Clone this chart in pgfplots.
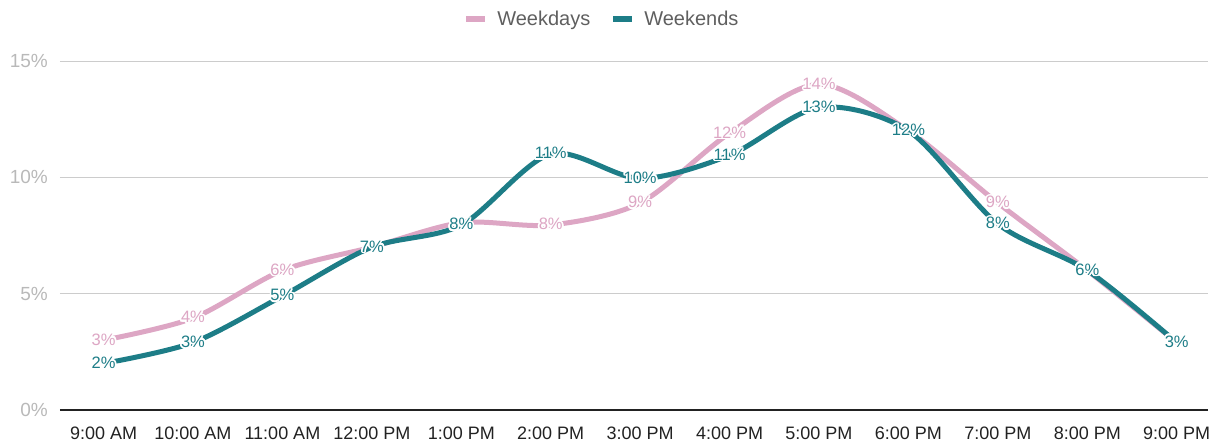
\documentclass[border=0pt]{standalone}
\usepackage{fontspec}
\setmainfont{Liberation Sans}
\usepackage{pgfplots}
\pgfplotsset{compat=1.18}
\usepackage{contour}
\contourlength{1.6pt}
\definecolor{wd}{RGB}{221,166,196}
\definecolor{we}{RGB}{29,125,135}
\definecolor{gridgray}{RGB}{204,204,204}
\definecolor{ytgray}{RGB}{185,185,185}
\definecolor{legtext}{RGB}{95,95,95}
\definecolor{xtext}{RGB}{34,34,34}
\begin{document}
\begin{tikzpicture}
\path[use as bounding box] (-60pt,-35pt) rectangle (1150pt,410pt);
\begin{axis}[
  /pgf/number format/assume math mode=true,
  width=1148pt, height=349pt, scale only axis,
  at={(0,0)}, anchor=south west,
  xmin=-0.487, xmax=12.35, ymin=0, ymax=15,
  xtick={0,...,12},
  xticklabels={9:00 AM,10:00 AM,11:00 AM,12:00 PM,1:00 PM,2:00 PM,3:00 PM,4:00 PM,5:00 PM,6:00 PM,7:00 PM,8:00 PM,9:00 PM},
  ytick={0,5,10,15},
  yticklabel={\pgfmathprintnumber{\tick}\%},
  ymajorgrids, grid style={color=gridgray, line width=1pt},
  axis x line=bottom, axis y line=left,
  x axis line style={-, color=xtext, line width=1.3pt},
  y axis line style={draw=none},
  major tick length=0pt, tick style={draw=none},
  x tick label style={inner sep=0pt, anchor=north, yshift=-17pt, font=\fontsize{18}{21}\selectfont, text=xtext},
  y tick label style={inner sep=0pt, anchor=east, xshift=-12pt, font=\fontsize{19}{22}\selectfont, text=ytgray},
  legend style={at={(axis description cs:0.472,1.12)}, anchor=center, draw=none, fill=none,
    legend columns=2, font=\fontsize{20}{23}\selectfont, text=legtext,
    /tikz/every even column/.append style={column sep=18pt}},
  legend image code/.code={\draw[line width=6pt] (0pt,0pt) -- (19pt,0pt); \path[draw=none,fill=none] (0pt,-2pt) rectangle (29pt,2pt);},
  clip=false,
]
\addplot[color=wd, line width=5pt, smooth, mark=none] coordinates {
(0,3.0)(1,3.95)(2,6.0)(3,7.0)(4,8.05)(5,7.95)(6,8.9)(7,11.9)(8,14.0)(9,12.0)(10,8.9)(11,6.0)(12,2.9)};
\addlegendentry{Weekdays}
\addplot[color=we, line width=5pt, smooth, mark=none] coordinates {
(0,2.0)(1,2.9)(2,4.9)(3,7.0)(4,7.95)(5,11.0)(6,9.95)(7,10.95)(8,13.0)(9,12.0)(10,8.0)(11,6.0)(12,2.9)};
\addlegendentry{Weekends}
\addplot[draw=none, mark=none, forget plot,
  nodes near coords={\contour{white}{\pgfmathprintnumber[fixed,precision=0]{\pgfplotspointmeta}\%}},
  nodes near coords style={anchor=center, inner sep=0pt, text=wd, font=\fontsize{16.5}{19}\selectfont}]
coordinates {(0,3.0)(1,3.95)(2,6.0)(5,7.95)(6,8.9)(7,11.9)(8,14.0)(10,8.9)(11,6.0)};
\addplot[draw=none, mark=none, forget plot,
  nodes near coords={\contour{white}{\pgfmathprintnumber[fixed,precision=0]{\pgfplotspointmeta}\%}},
  nodes near coords style={anchor=center, inner sep=0pt, text=we, font=\fontsize{16.5}{19}\selectfont}]
coordinates {(0,2.0)(1,2.9)(2,4.9)(3,7.0)(4,7.95)(5,11.0)(6,9.95)(7,10.95)(8,13.0)(9,12.0)(10,8.0)(11,6.0)(12,2.9)};
\end{axis}
\end{tikzpicture}
\end{document}
